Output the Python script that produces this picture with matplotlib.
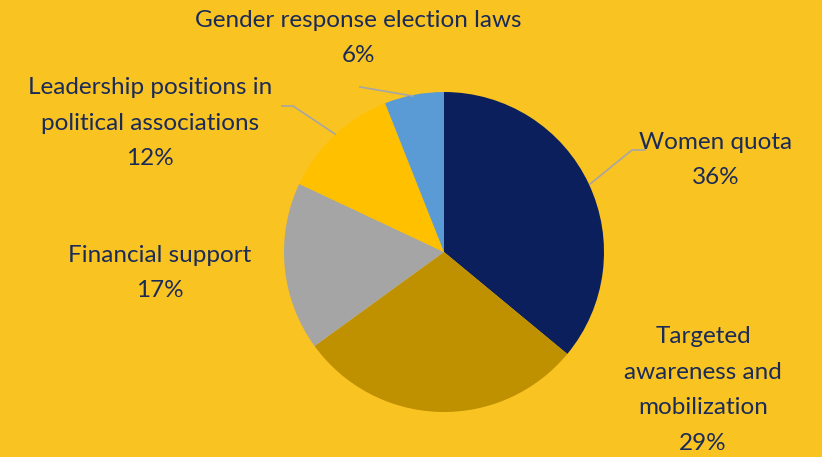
import matplotlib.pyplot as plt

labels = ["Women quota", "Targeted\nawareness and\nmobilization", "Financial support",
          "Leadership positions in\npolitical associations", "Gender response election laws"]
shares = [36, 29, 17, 12, 6]
colors = ["#0b1f5c", "#bf9000", "#a5a5a5", "#ffc000", "#5b9bd5"]

bg = "#f9c322"
txt = "#1b2b58"
W, H = 822, 457

fig = plt.figure(figsize=(W / 100, H / 100), dpi=100, facecolor=bg)
ax = fig.add_axes([0, 0, 1, 1])
ax.set_facecolor(bg)

cx, cy, r = 444, H - 252, 160
ax.pie(shares, colors=colors, startangle=90, counterclock=False,
       center=(cx, cy), radius=r, frame=True,
       wedgeprops=dict(linewidth=0))
ax.set_xlim(0, W)
ax.set_ylim(0, H)
ax.set_aspect("equal")
ax.axis("off")

# label positions in pixel space (x, y from top)
label_pos = [(716, 160), (703, 390), (160, 273), (150, 123), (358, 38)]
for lab, s, (x, y) in zip(labels, shares, label_pos):
    ax.text(x, H - y, f"{lab}\n{s}%", ha="center", va="center", fontsize=17.5,
            family="Lato", color=txt, linespacing=1.86)

# leader lines
leaders = [
    [(590, 184), (632, 150), (645, 150)],
    [(335, 134), (293, 106), (282, 106)],
    [(413, 96), (360, 87)],
]
for pts in leaders:
    xs = [p[0] for p in pts]
    ys = [H - p[1] for p in pts]
    ax.plot(xs, ys, color="#a6a6a6", lw=1.2)

fig.savefig("out.png", dpi=100, facecolor=bg)
